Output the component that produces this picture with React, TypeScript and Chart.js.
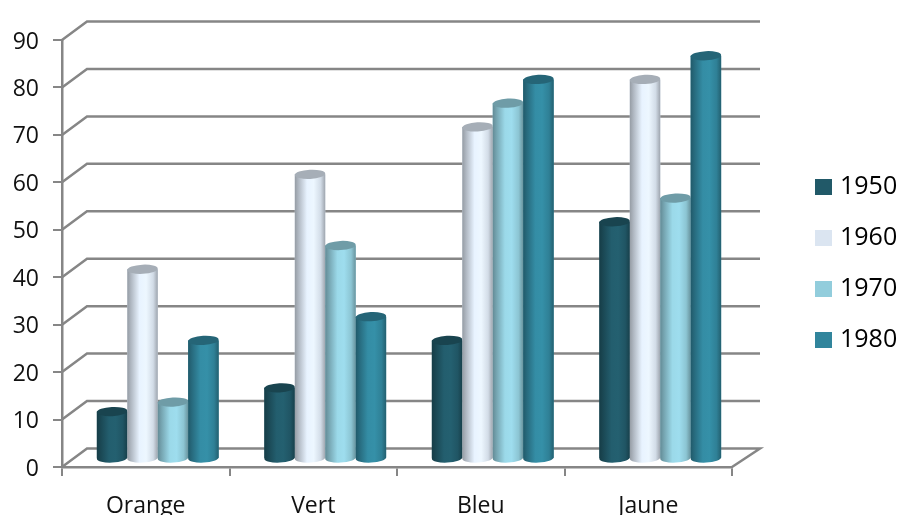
import React, { useEffect, useRef } from "react";
import { Chart, registerables } from "chart.js";

Chart.register(...registerables);

const categories = ["Orange", "Vert", "Bleu", "Jaune"];
const seriesNames = ["1950", "1960", "1970", "1980"];
const values1950 = [10, 15, 25, 50];
const values1960 = [40, 60, 70, 80];
const values1970 = [12, 45, 75, 55];
const values1980 = [25, 30, 80, 85];
const seriesColors = ["#215968", "#DBE5F1", "#92CDDC", "#31859C"];
const axisColor = "#868686";
const fontFamily = "'Open Sans', 'Noto Sans', sans-serif";

const DEPTH_X = 25;
const DEPTH_Y = 18.5;
const BAR_DX = 12;
const BAR_DY = 8;

function shade(hex: string, k: number) {
  const n = parseInt(hex.slice(1), 16);
  const f = (v: number) => Math.max(0, Math.min(255, Math.round(v * k)));
  return `rgb(${f((n >> 16) & 255)},${f((n >> 8) & 255)},${f(n & 255)})`;
}

function drawCylinder(ctx: CanvasRenderingContext2D, el: any, color: string) {
  const { x, y, base, width } = el.getProps(["x", "y", "base", "width"], true);
  const l = x - width / 2;
  const r = x + width / 2;
  const rx = width / 2;
  const ry = 4.6;
  const tilt = -0.05;
  const g = ctx.createLinearGradient(l, 0, r, 0);
  g.addColorStop(0, shade(color, 0.68));
  g.addColorStop(0.12, shade(color, 0.8));
  g.addColorStop(0.4, shade(color, 1.06));
  g.addColorStop(0.62, shade(color, 1.08));
  g.addColorStop(0.85, shade(color, 0.96));
  g.addColorStop(1, shade(color, 0.72));
  ctx.save();
  ctx.fillStyle = g;
  ctx.beginPath();
  ctx.moveTo(l, y);
  ctx.lineTo(l, base);
  ctx.ellipse(x, base, rx, ry, tilt, Math.PI, 0, true);
  ctx.lineTo(r, y);
  ctx.closePath();
  ctx.fill();
  ctx.fillStyle = shade(color, 0.76);
  ctx.beginPath();
  ctx.ellipse(x, y, rx, ry, tilt, 0, Math.PI * 2);
  ctx.fill();
  ctx.restore();
}

const depthPlugin = {
  id: "depth",
  afterLayout(chart: any) {
    const l = chart.legend;
    if (l) {
      const p = l.options.labels.padding;
      l.left = 819.5 - p;
      l.right = 898;
      l.width = l.right - l.left;
      l.top -= 14;
      l.bottom -= 14;
    }
    // The reference's tick digits sit slightly lower than this font's middle line.
    const y = chart.scales.y;
    const compute = y._computeLabelItems;
    if (!y.__shifted) {
      y.__shifted = true;
      y._computeLabelItems = (area: any) =>
        compute.call(y, area).map((item: any) => ({
          ...item,
          options: {
            ...item.options,
            translation: [item.options.translation[0], item.options.translation[1] + 2],
          },
        }));
    }
  },
  beforeDatasetsDraw(chart: any) {
    const { ctx, scales, chartArea } = chart;
    const y = scales.y;
    ctx.save();
    ctx.strokeStyle = axisColor;
    ctx.lineWidth = 2.5;
    ctx.lineJoin = "miter";
    y.ticks.forEach((t: any) => {
      const py = y.getPixelForValue(t.value);
      ctx.beginPath();
      ctx.moveTo(chartArea.left, py);
      ctx.lineTo(chartArea.left + DEPTH_X, py - DEPTH_Y);
      ctx.lineTo(chartArea.right + DEPTH_X + 3, py - DEPTH_Y);
      if (t.value === 0) ctx.lineTo(chartArea.right, py);
      ctx.stroke();
    });
    ctx.restore();
    ctx.save();
    ctx.translate(BAR_DX, -BAR_DY);
  },
  afterDatasetsDraw(chart: any) {
    const { ctx } = chart;
    seriesNames.forEach((_, i) => {
      chart.getDatasetMeta(i).data.forEach((el: any) => drawCylinder(ctx, el, seriesColors[i]));
    });
    ctx.restore();
  },
};

export default function App() {
  const ref = useRef<HTMLCanvasElement>(null);
  useEffect(() => {
    const allValues = [values1950, values1960, values1970, values1980];
    const chart = new Chart(ref.current as HTMLCanvasElement, {
      type: "bar",
      data: {
        labels: categories,
        datasets: seriesNames.map((name, i) => ({
          label: name,
          data: allValues[i],
          backgroundColor: seriesColors[i],
          borderWidth: 0,
          clip: false as any,
          categoryPercentage: 0.727,
          barPercentage: 1,
        })),
      },
      options: {
        responsive: false,
        animation: false,
        devicePixelRatio: 1,
        layout: { padding: { top: 40, right: 66, bottom: 0, left: 0 } },
        plugins: {
          title: { display: false },
          tooltip: { enabled: false },
          legend: {
            position: "right",
            maxWidth: 100,
            labels: {
              boxWidth: 8,
              boxHeight: 7,
              padding: 26,
              color: "#111",
              font: { family: fontFamily, size: 25 },
              generateLabels: () =>
                seriesNames.map((name, i) => ({
                  text: name,
                  fillStyle: seriesColors[i],
                  strokeStyle: seriesColors[i],
                  lineWidth: 9,
                  datasetIndex: i,
                  hidden: false,
                })),
            },
          },
        },
        scales: {
          x: {
            afterFit: (s: any) => {
              s.height = 48;
            },
            grid: {
              drawOnChartArea: false,
              drawTicks: true,
              tickLength: 9,
              color: axisColor,
              lineWidth: 2,
            },
            border: { color: axisColor, width: 2.5 },
            ticks: {
              padding: 17,
              color: "#111",
              font: { family: fontFamily, size: 23 },
            },
          },
          y: {
            min: 0,
            max: 90,
            afterFit: (s: any) => {
              s.width = 62;
            },
            grid: {
              drawOnChartArea: false,
              drawTicks: true,
              tickLength: 9,
              color: axisColor,
              lineWidth: 2,
            },
            border: { color: axisColor, width: 2.5 },
            ticks: {
              stepSize: 10,
              padding: 14,
              color: "#111",
              font: { family: fontFamily, size: 23 },
            },
          },
        },
      },
      plugins: [depthPlugin],
    } as any);
    return () => chart.destroy();
  }, []);
  return (
    <div style={{ position: "fixed", left: 0, top: 0, width: 898, height: 515, background: "#fff" }}>
      <canvas ref={ref} width={898} height={515} style={{ display: "block" }} />
    </div>
  );
}
